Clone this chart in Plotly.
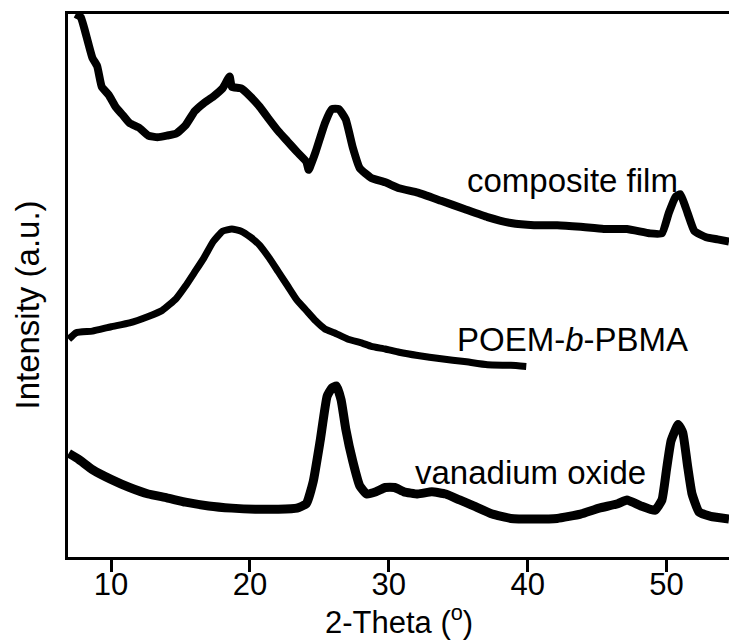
import plotly.graph_objects as go

# 2-theta positions (degrees) and stacked intensities (a.u., offset per trace)
comp_x = [7.45, 7.82, 8.33, 8.66, 9.0, 9.33, 9.83, 10.33, 10.84, 11.34, 12.0, 12.68, 13.35,
          14.02, 14.69, 15.36, 16.03, 16.69, 17.36, 18.03, 18.54, 18.70, 19.37, 20.04, 20.71,
          21.38, 22.05, 22.72, 23.39, 24.06, 24.23, 24.73, 25.40, 25.90, 26.40, 26.90, 27.41,
          27.91, 28.74, 29.75, 30.75, 32.09, 33.77, 35.44, 37.11, 38.79, 40.46, 42.13, 43.81,
          45.48, 47.15, 48.83, 49.67, 50.17, 50.67, 51.0, 51.51, 52.01, 52.85, 53.68, 54.5]
comp_y = [100.0, 99.4, 94.9, 91.9, 90.4, 86.6, 85.1, 82.9, 81.4, 79.9, 79.1, 77.6, 77.3,
          77.6, 78.0, 79.5, 82.1, 83.6, 84.8, 86.3, 88.5, 86.6, 86.3, 84.8, 82.9,
          80.6, 78.4, 76.5, 74.6, 72.8, 71.3, 74.6, 79.9, 82.5, 82.5, 80.6, 75.4,
          71.6, 69.8, 69.0, 67.9, 67.1, 65.6, 64.1, 62.6, 61.5, 61.1, 61.1, 60.8,
          60.4, 60.4, 59.6, 59.6, 63.4, 66.4, 66.8, 63.4, 60.0, 58.9, 58.5, 58.1]

poem_x = [6.95, 7.49, 8.66, 10.0, 11.34, 12.68, 13.68, 14.69, 15.36, 16.03, 16.69, 17.36,
          18.03, 18.70, 19.37, 20.04, 20.71, 21.38, 22.05, 22.72, 23.39, 24.06, 24.73,
          25.40, 26.07, 27.07, 28.08, 28.74, 29.75, 30.75, 32.09, 33.77, 35.44, 37.11,
          38.79, 39.9]
poem_y = [40.1, 41.3, 41.6, 42.4, 43.1, 44.3, 45.4, 47.6, 49.9, 52.5, 55.1, 58.1,
          60.0, 60.4, 60.0, 58.9, 57.4, 55.1, 52.5, 49.9, 47.3, 45.4, 43.5,
          42.0, 41.3, 40.1, 39.4, 38.8, 38.3, 37.7, 37.1, 36.5, 36.0, 35.4,
          35.3, 35.1]

vox_x = [6.95, 7.66, 8.66, 10.0, 11.34, 12.68, 14.02, 15.36, 17.03, 18.70, 20.38, 22.05,
         23.39, 24.06, 24.56, 25.06, 25.56, 25.90, 26.23, 26.57, 26.90, 27.41, 27.91,
         28.41, 29.08, 29.75, 30.42, 31.09, 32.09, 33.10, 34.10, 35.10, 36.11, 37.45,
         38.79, 40.46, 42.13, 43.81, 45.15, 46.49, 47.15, 48.16, 49.16, 49.67, 50.0,
         50.33, 50.84, 51.17, 51.51, 51.84, 52.34, 53.18, 54.5]
vox_y = [19.1, 18.0, 16.1, 14.3, 12.8, 11.6, 10.9, 10.1, 9.4, 9.0, 8.8, 8.8,
         9.0, 9.8, 13.9, 21.4, 29.6, 31.1, 31.5, 28.9, 23.6, 17.6, 13.1,
         11.6, 12.0, 12.8, 12.8, 12.0, 11.6, 12.0, 11.6, 10.5, 9.4, 7.9,
         7.1, 7.0, 7.1, 7.9, 9.0, 9.8, 10.5, 9.4, 8.6, 10.5, 16.1,
         21.4, 24.4, 22.9, 16.9, 11.6, 8.3, 7.5, 7.0]

x_ticks = [10, 20, 30, 40, 50]

# label text and anchor point (x, y in data units)
labels = [("composite film", 43.26, 69.3),
          ("POEM-<i>b</i>-PBMA", 43.26, 40.1),
          ("vanadium oxide", 40.2, 15.6)]

FONT = "Liberation Sans, Arial, sans-serif"

fig = go.Figure()
for xs, ys, w in [(comp_x, comp_y, 8), (poem_x, poem_y, 7), (vox_x, vox_y, 9)]:
    fig.add_trace(go.Scatter(
        x=xs, y=ys, mode="lines",
        line=dict(color="black", width=w, shape="spline", smoothing=0.4),
        showlegend=False, hoverinfo="skip"))

for text, lx, ly in labels:
    fig.add_annotation(x=lx, y=ly, text=text, showarrow=False,
                       xanchor="center", yanchor="middle",
                       font=dict(family=FONT, size=33, color="black"))

fig.add_annotation(xref="paper", yref="paper", x=0.50, y=-0.116,
                   text="2-Theta (<sup>o</sup>)", showarrow=False,
                   xanchor="center", yanchor="middle",
                   font=dict(family=FONT, size=31, color="black"))
fig.add_annotation(xref="paper", yref="paper", x=-0.0613, y=0.464,
                   text="Intensity (a.u.)", showarrow=False, textangle=-90,
                   xanchor="center", yanchor="middle",
                   font=dict(family=FONT, size=33, color="black"))

fig.update_layout(
    width=729, height=640,
    margin=dict(l=68, r=0, t=14, b=83),
    paper_bgcolor="white", plot_bgcolor="white",
)
fig.update_xaxes(
    range=[6.9, 54.5], tickvals=x_ticks, ticks="outside", ticklen=12, tickwidth=3,
    tickcolor="black", showline=True, linewidth=3, linecolor="black", mirror=True,
    showgrid=False, zeroline=False, ticklabelstandoff=-14,
    tickfont=dict(family=FONT, size=31, color="black"),
)
fig.update_yaxes(
    range=[0, 100], showticklabels=False, ticks="", showline=True, linewidth=3,
    linecolor="black", showgrid=False, zeroline=False,
)

fig.write_html("out.html")
